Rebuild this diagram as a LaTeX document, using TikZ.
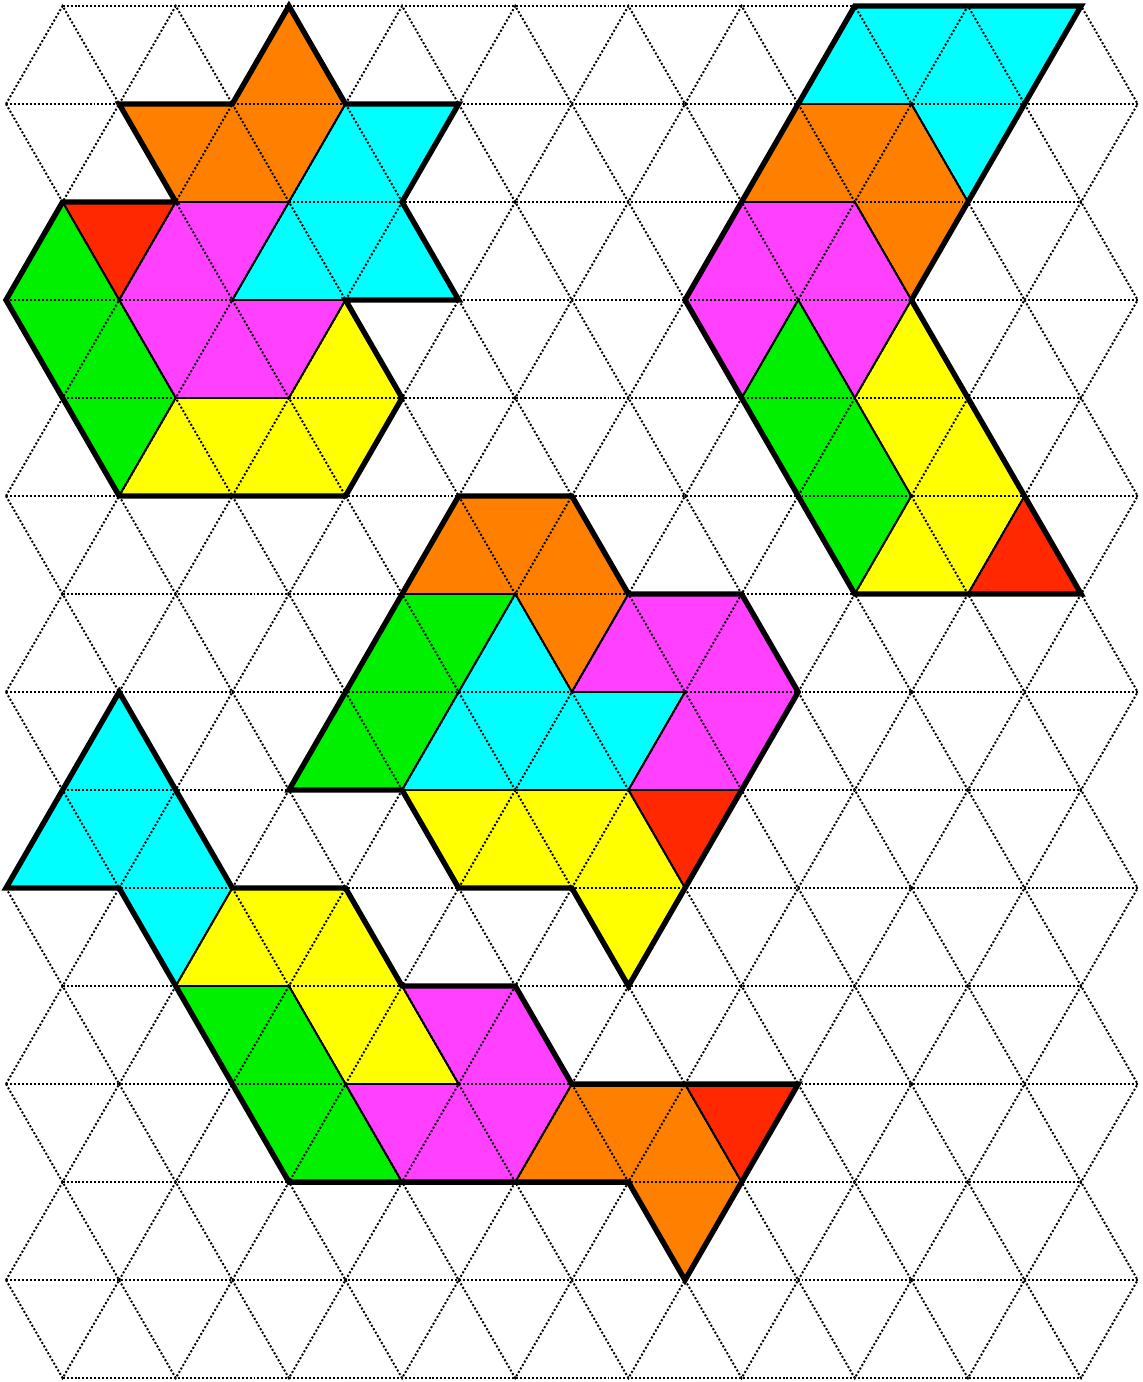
\documentclass[tikz,border=0pt]{standalone}
\definecolor{porange}{RGB}{255,128,0}
\definecolor{pcyan}{RGB}{0,255,255}
\definecolor{pred}{RGB}{255,40,0}
\definecolor{pmagenta}{RGB}{255,64,255}
\definecolor{pgreen}{RGB}{0,240,0}
\definecolor{pyellow}{RGB}{255,255,0}
\begin{document}
\begin{tikzpicture}[x=0.5cm, y=-0.8660254cm,
    gridline/.style={line width=0.5pt, dash pattern=on 0.5pt off 0.5pt},
    piece/.style={draw=black, line width=0.45pt},
    outline/.style={draw=black, line width=1.35pt}]
    \useasboundingbox (-0.106,-0.061) rectangle (20.09,14.04);

    % 第一块 (左上)
    \filldraw[piece, fill=porange] (5,0) -- (6,1) -- (5,2) -- (3,2) -- (2,1) -- (4,1) -- cycle;
    \filldraw[piece, fill=pcyan] (6,1) -- (8,1) -- (7,2) -- (8,3) -- (4,3) -- cycle;
    \filldraw[piece, fill=pred] (1,2) -- (3,2) -- (2,3) -- cycle;
    \filldraw[piece, fill=pmagenta] (3,2) -- (5,2) -- (4,3) -- (6,3) -- (5,4) -- (3,4) -- (2,3) -- cycle;
    \filldraw[piece, fill=pgreen] (1,2) -- (3,4) -- (2,5) -- (0,3) -- cycle;
    \filldraw[piece, fill=pyellow] (6,3) -- (7,4) -- (6,5) -- (2,5) -- (3,4) -- (5,4) -- cycle;

    % 第二块 (右上)
    \filldraw[piece, fill=pcyan] (15,0) -- (19,0) -- (17,2) -- (16,1) -- (14,1) -- cycle;
    \filldraw[piece, fill=porange] (14,1) -- (16,1) -- (17,2) -- (16,3) -- (15,2) -- (13,2) -- cycle;
    \filldraw[piece, fill=pmagenta] (13,2) -- (15,2) -- (16,3) -- (15,4) -- (14,3) -- (13,4) -- (12,3) -- cycle;
    \filldraw[piece, fill=pgreen] (14,3) -- (15,4) -- (16,5) -- (15,6) -- (13,4) -- cycle;
    \filldraw[piece, fill=pyellow] (16,3) -- (18,5) -- (17,6) -- (15,6) -- (16,5) -- (15,4) -- cycle;
    \filldraw[piece, fill=pred] (18,5) -- (19,6) -- (17,6) -- cycle;

    % 第三块 (中间)
    \filldraw[piece, fill=porange] (8,5) -- (10,5) -- (11,6) -- (10,7) -- (9,6) -- (7,6) -- cycle;
    \filldraw[piece, fill=pgreen] (7,6) -- (9,6) -- (7,8) -- (5,8) -- cycle;
    \filldraw[piece, fill=pcyan] (9,6) -- (10,7) -- (12,7) -- (11,8) -- (7,8) -- cycle;
    \filldraw[piece, fill=pmagenta] (11,6) -- (13,6) -- (14,7) -- (13,8) -- (11,8) -- (12,7) -- (10,7) -- cycle;
    \filldraw[piece, fill=pred] (11,8) -- (13,8) -- (12,9) -- cycle;
    \filldraw[piece, fill=pyellow] (7,8) -- (11,8) -- (12,9) -- (11,10) -- (10,9) -- (8,9) -- cycle;

    % 第四块 (下方)
    \filldraw[piece, fill=pcyan] (2,7) -- (4,9) -- (3,10) -- (2,9) -- (0,9) -- cycle;
    \filldraw[piece, fill=pyellow] (4,9) -- (6,9) -- (8,11) -- (6,11) -- (5,10) -- (3,10) -- cycle;
    \filldraw[piece, fill=pgreen] (3,10) -- (5,10) -- (7,12) -- (5,12) -- cycle;
    \filldraw[piece, fill=pmagenta] (7,10) -- (9,10) -- (10,11) -- (9,12) -- (7,12) -- (6,11) -- (8,11) -- cycle;
    \filldraw[piece, fill=porange] (10,11) -- (12,11) -- (13,12) -- (12,13) -- (11,12) -- (9,12) -- cycle;
    \filldraw[piece, fill=pred] (12,11) -- (14,11) -- (13,12) -- cycle;

    % 三角网格
    \foreach \r in {0,2,...,14} {
        \draw[gridline] (1,\r) -- (19,\r);
    }
    \foreach \r in {1,3,...,13} {
        \draw[gridline] (0,\r) -- (20,\r);
    }
    \foreach \r in {0,2,...,12} {
        \foreach \i in {1,3,...,19} {
            \draw[gridline] (\i-1,\r+1) -- (\i,\r) -- (\i+1,\r+1);
            \draw[gridline] (\i-1,\r+1) -- (\i,\r+2) -- (\i+1,\r+1);
        }
    }

    % 外轮廓
    \draw[outline] (5,0) -- (6,1) -- (8,1) -- (7,2) -- (8,3) -- (6,3) -- (7,4) -- (6,5) -- (2,5) -- (0,3) -- (1,2) -- (3,2) -- (2,1) -- (4,1) -- cycle;
    \draw[outline] (15,0) -- (19,0) -- (16,3) -- (19,6) -- (15,6) -- (12,3) -- cycle;
    \draw[outline] (8,5) -- (10,5) -- (11,6) -- (13,6) -- (14,7) -- (11,10) -- (10,9) -- (8,9) -- (7,8) -- (5,8) -- cycle;
    \draw[outline] (2,7) -- (4,9) -- (6,9) -- (7,10) -- (9,10) -- (10,11) -- (14,11) -- (12,13) -- (11,12) -- (5,12) -- (2,9) -- (0,9) -- cycle;
\end{tikzpicture}
\end{document}
